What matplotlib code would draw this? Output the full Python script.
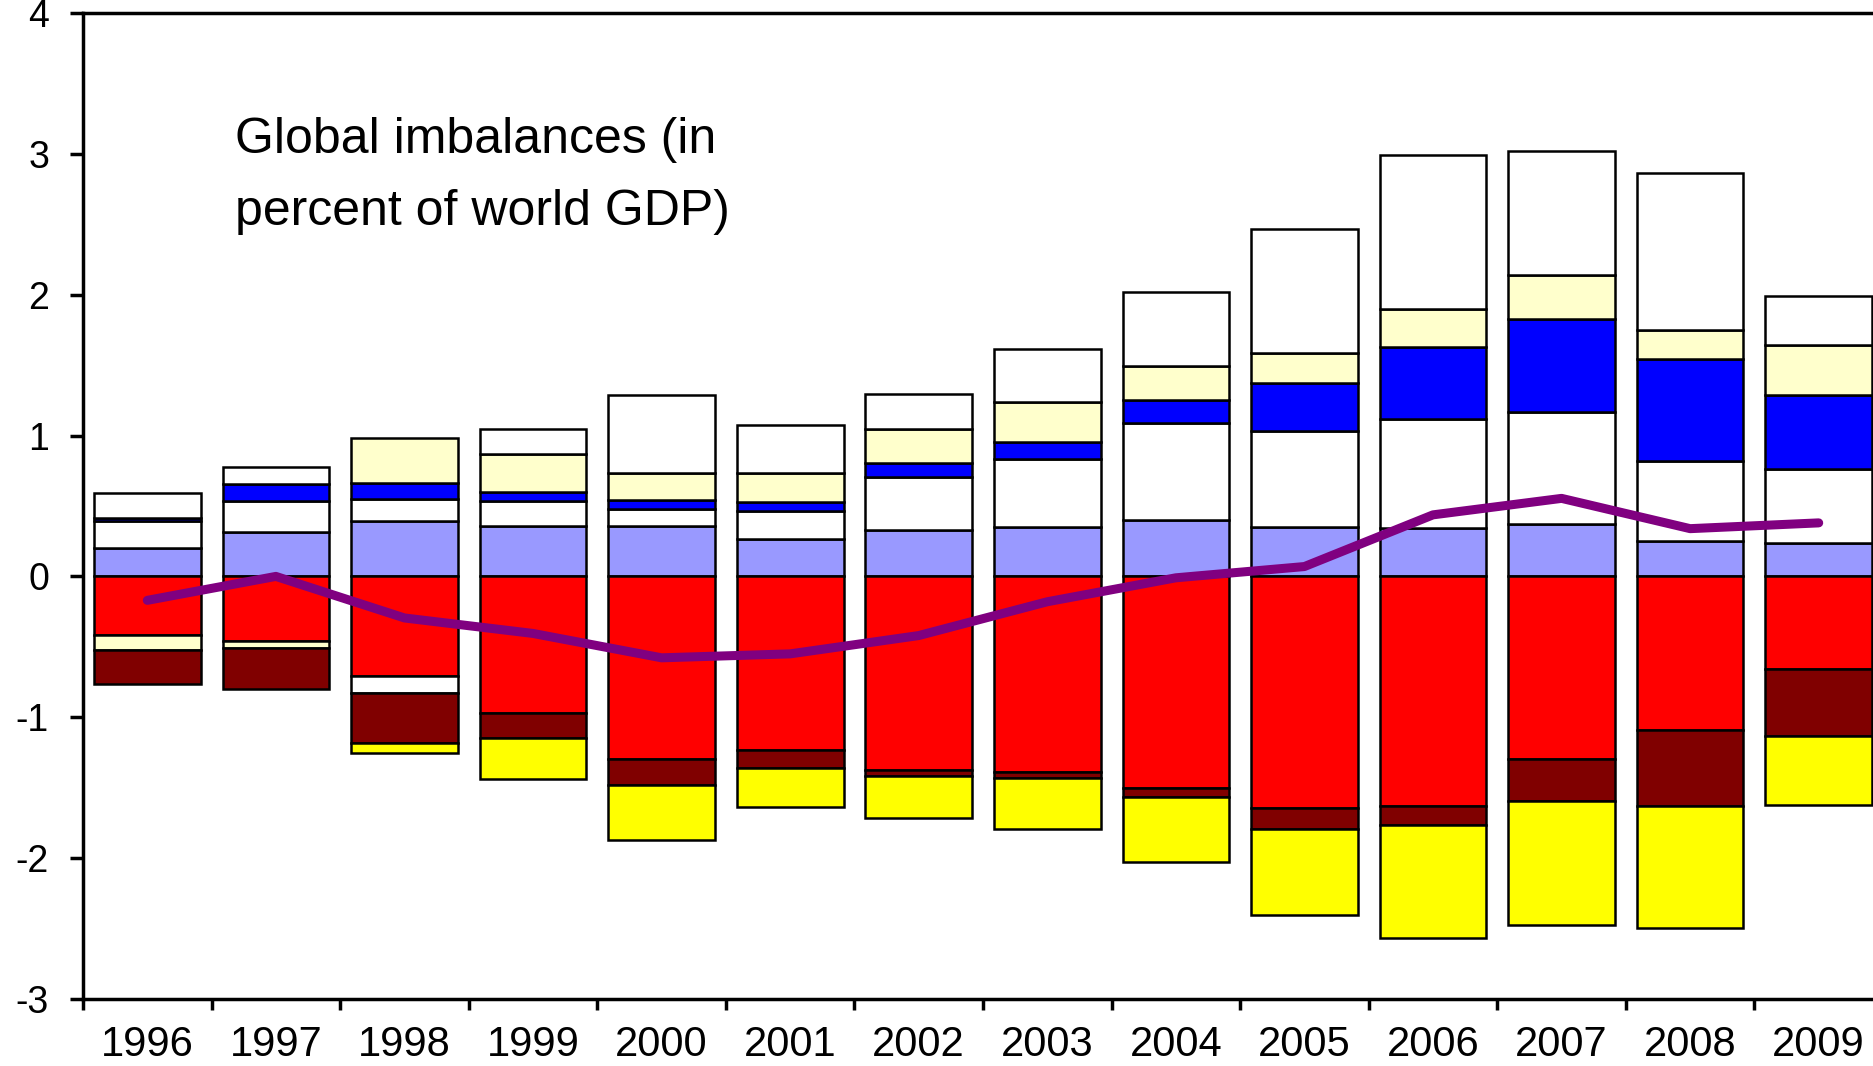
import numpy as np
import matplotlib.pyplot as plt

plt.rcParams['font.family'] = ['Liberation Sans', 'DejaVu Sans']
plt.rcParams['axes.unicode_minus'] = False

# ============================================================
# Data (percent of world GDP)
# ============================================================

years = ['1996', '1997', '1998', '1999', '2000', '2001', '2002',
         '2003', '2004', '2005', '2006', '2007', '2008', '2009']

# series in stacking order; signed values (positive stack up, negative stack down)
lavender = [0.205, 0.318, 0.39, 0.36, 0.359, 0.267, 0.33,
            0.354, 0.401, 0.354, 0.342, 0.374, 0.253, 0.234]
red = [-0.413, -0.46, -0.71, -0.967, -1.297, -1.234, -1.373,
       -1.392, -1.505, -1.644, -1.632, -1.297, -1.091, -0.656]
white_low = [0.188, 0.22, 0.16, 0.176, 0.12, 0.20, 0.373,
             0.483, 0.689, 0.679, 0.778, 0.792, 0.568, 0.529]
blue = [0.02, 0.115, 0.11, 0.064, 0.064, 0.064, 0.104,
        0.118, 0.165, 0.342, 0.508, 0.658, 0.72, 0.524]
light_yellow = [-0.111, -0.047, 0.32, 0.27, 0.193, 0.205, 0.236,
                0.283, 0.238, 0.21, 0.271, 0.314, 0.209, 0.358]
white_top = [0.181, 0.125, -0.12, 0.175, 0.55, 0.342, 0.254,
             0.376, 0.524, 0.88, 1.09, 0.882, 1.113, 0.344]
dark_red = [-0.238, -0.293, -0.35, -0.183, -0.182, -0.127, -0.042,
            -0.04, -0.064, -0.149, -0.133, -0.301, -0.537, -0.479]
yellow = [0.0, 0.0, -0.075, -0.286, -0.389, -0.279, -0.302,
          -0.361, -0.46, -0.608, -0.802, -0.874, -0.87, -0.49]

net_line = [-0.17, 0.0, -0.295, -0.405, -0.578, -0.55, -0.42,
            -0.18, -0.01, 0.07, 0.437, 0.554, 0.339, 0.38]

series = [
    (lavender, '#9999FF'),
    (red, '#FF0000'),
    (white_low, '#FFFFFF'),
    (blue, '#0000FF'),
    (light_yellow, '#FFFFCC'),
    (white_top, '#FFFFFF'),
    (dark_red, '#800000'),
    (yellow, '#FFFF00'),
]

# ============================================================
# Plot
# ============================================================

fig = plt.figure(figsize=(18.74, 10.66), dpi=100)
ax = fig.add_axes([0.0443, 0.0629, 0.9605, 0.9249])

x = np.arange(len(years))
pos_bottom = np.zeros(len(years))
neg_bottom = np.zeros(len(years))

for vals, col in series:
    vals = np.array(vals)
    pos = np.where(vals > 0, vals, 0.0)
    neg = np.where(vals < 0, vals, 0.0)
    m = pos > 0
    ax.bar(x[m], pos[m], bottom=pos_bottom[m], width=0.83, color=col,
           edgecolor='black', linewidth=1.8, zorder=2)
    m = neg < 0
    ax.bar(x[m], neg[m], bottom=neg_bottom[m], width=0.83, color=col,
           edgecolor='black', linewidth=1.8, zorder=2)
    pos_bottom += pos
    neg_bottom += neg

ax.plot(x, net_line, color='#800080', linewidth=6.5, solid_capstyle='round',
        solid_joinstyle='round', zorder=3)

ax.set_xlim(-0.5, len(years) - 0.5)
ax.set_ylim(-3, 4)

# category boundaries as ticks, labels at centres
ax.set_xticks(np.arange(-0.5, len(years) + 0.5, 1.0))
ax.set_xticklabels([])
ax.set_xticks(x, minor=True)
ax.set_xticklabels(years, minor=True)
ax.tick_params(axis='x', which='major', direction='out', length=8, width=2.5)
ax.tick_params(axis='x', which='minor', length=0, pad=19, labelsize=30)

ax.set_yticks(np.arange(-3, 5, 1))
ax.set_yticklabels([str(v) for v in range(-3, 5)])
ax.tick_params(axis='y', direction='out', length=9.5, width=2.5, pad=15,
               labelsize=27)

ax.spines['right'].set_visible(False)
for side in ['left', 'bottom', 'top']:
    ax.spines[side].set_linewidth(2.5)

fig.text(235 / 1874, 1 - 153 / 1066, 'Global imbalances (in', fontsize=36,
         ha='left', va='baseline')
fig.text(235 / 1874, 1 - 225 / 1066, 'percent of world GDP)', fontsize=36,
         ha='left', va='baseline')

fig.savefig('out.png', dpi=100)
